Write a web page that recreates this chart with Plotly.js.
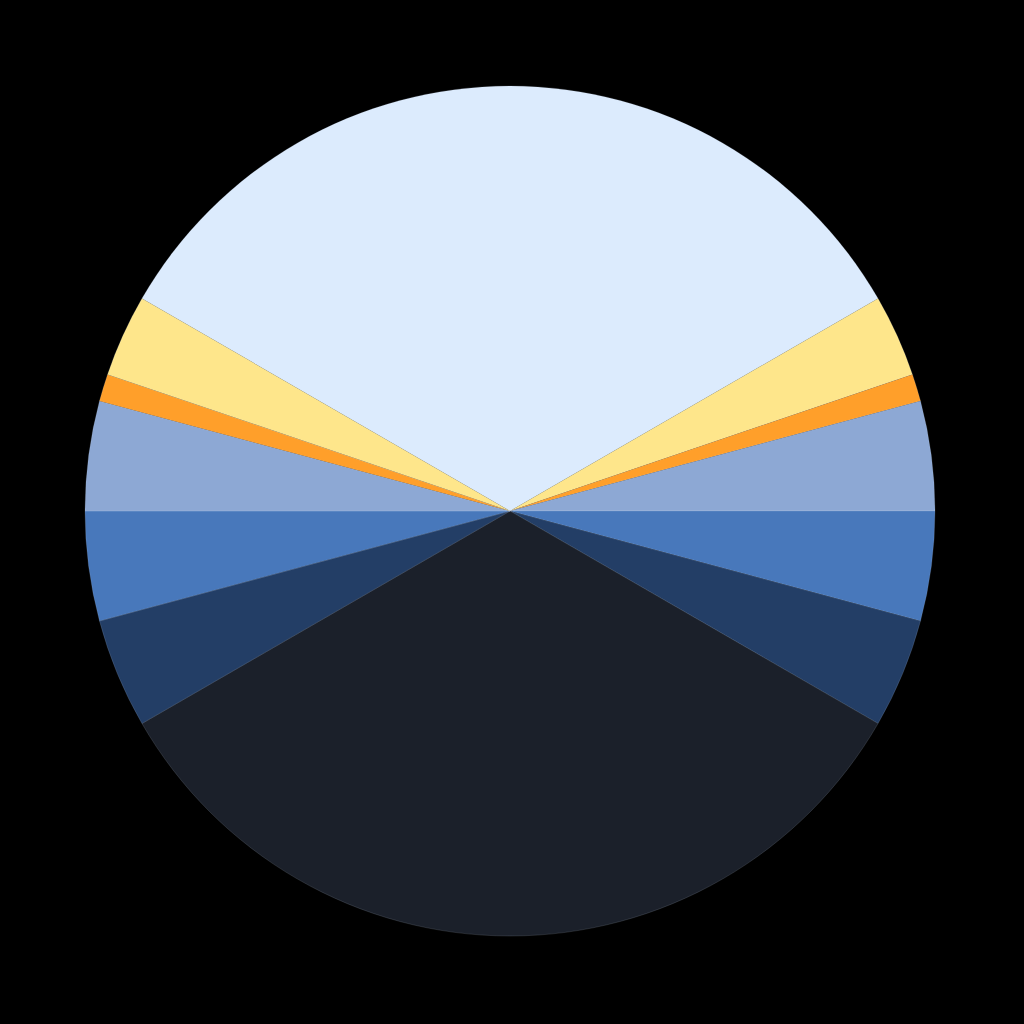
<!DOCTYPE html>
<html>
<head>
<meta charset="utf-8">
<script src="https://cdn.plot.ly/plotly-3.0.1.min.js"></script>
<style>html,body{margin:0;padding:0;background:#000;}#chart{width:1024px;height:1024px;}</style>
</head>
<body>
<div id="chart"></div>
<script>
var labels = ["Sky", "Glow R", "Sun R", "Haze R", "Water R", "Deep R", "Ground", "Deep L", "Water L", "Haze L", "Sun L", "Glow L"];
var values = [40, 3.75, 1.25, 5, 5, 5, 40, 5, 5, 5, 1.25, 3.75];
var colors = ["#DCEBFD", "#FEE68B", "#FF9F2A", "#8DA8D4", "#4878BB", "#233E66", "#1B202A", "#233E66", "#4878BB", "#8DA8D4", "#FF9F2A", "#FEE68B"];

var trace = {
  type: "pie",
  labels: labels,
  values: values,
  sort: false,
  direction: "clockwise",
  rotation: -60,
  textinfo: "none",
  hoverinfo: "label+value",
  marker: { colors: colors, line: { width: 0.4, color: "rgba(220,235,253,0.35)" } }
};

var layout = {
  width: 1024,
  height: 1024,
  paper_bgcolor: "#000000",
  plot_bgcolor: "#000000",
  showlegend: false,
  margin: { l: 85, r: 89, t: 86, b: 88 }
};

Plotly.newPlot("chart", [trace], layout, { displayModeBar: false, staticPlot: true });
</script>
</body>
</html>
